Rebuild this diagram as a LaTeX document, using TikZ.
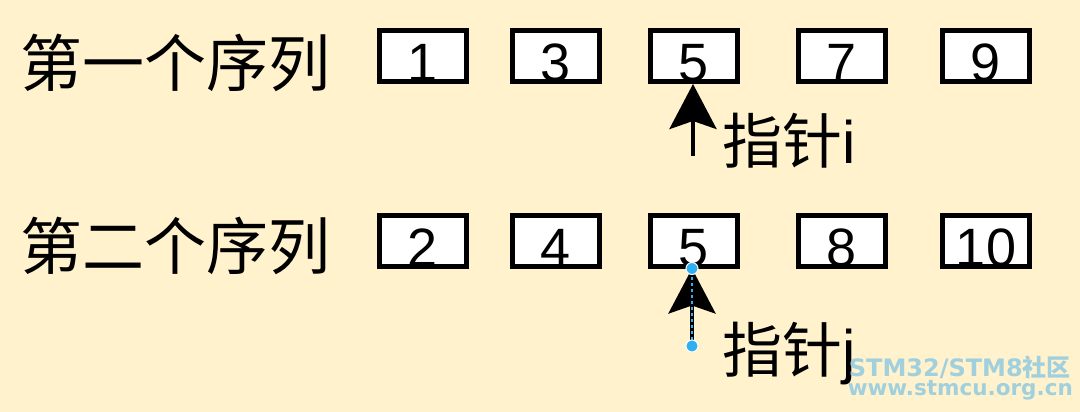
\documentclass[tikz,border=0pt]{standalone}
\usepackage{fontspec}
\setmainfont{Liberation Sans}
\newfontfamily\cjk{Noto Sans CJK SC}
\newfontfamily\wmfont{DejaVu Sans}
\usetikzlibrary{arrows.meta}
\definecolor{paper}{HTML}{FFF2CC}
\definecolor{handle}{HTML}{2DAFF0}
\definecolor{wmark}{RGB}{160,208,222}
\tikzset{
  numbox/.style={draw, line width=5pt, fill=white, minimum width=87pt,
    minimum height=51pt, inner sep=0pt, text height=51pt, text depth=0pt,
    font=\fontsize{54}{54}\selectfont},
  seqlabel/.style={font=\cjk\fontsize{62}{62}\selectfont, inner sep=0pt, anchor=base west},
  ptr/.style={line width=4pt, -{Stealth[length=45pt,width=47pt,inset=8pt]}},
  ptrlabel/.style={font=\fontsize{60}{60}\selectfont, inner sep=0pt, anchor=base west}
}

\begin{document}
\begin{tikzpicture}[x=1pt,y=-1pt]
      \fill[paper] (0,0) rectangle (1080,412);
      \useasboundingbox (0,0) rectangle (1080,412);

      % first sequence
      \node[seqlabel] (seqA) at (20,87) {第一个序列};
      \node[numbox] (a1) at (423,56) {1};
      \node[numbox] (a2) at (556,56) {3};
      \node[numbox] (a3) at (694,56) {5};
      \node[numbox] (a4) at (842,56) {7};
      \node[numbox] (a5) at (986,56) {9};

      % second sequence
      \node[seqlabel] (seqB) at (20,269) {第二个序列};
      \node[numbox] (b1) at (423,240.5) {2};
      \node[numbox] (b2) at (556,240.5) {4};
      \node[numbox] (b3) at (694,240.5) {5};
      \node[numbox] (b4) at (842,240.5) {8};
      \node[numbox] (b5) at (986,240.5) {10};

      % pointer i
      \coordinate (tailA) at ([xshift=-1pt,yshift=-71.5pt]a3.south);
      \draw[ptr] (tailA) -- ([xshift=-1pt]a3.south);
      \node[ptrlabel] (ptrA) at (722,163) {{\cjk 指针}i};

      % pointer j, still selected
      \coordinate (tailB) at ([xshift=-2pt,yshift=-77.5pt]b3.south);
      \coordinate (tipB) at ([xshift=-2pt]b3.south);
      \draw[ptr] (tailB) -- (tipB);
      \draw[handle, dashed, line width=1.2pt] (tailB) -- (tipB);
      \draw[fill=handle, draw=white, line width=1pt] (tipB) circle (6pt);
      \draw[fill=handle, draw=white, line width=1pt] (tailB) circle (6pt);
      \node[ptrlabel] (ptrB) at (722,372) {{\cjk 指针}j};

      % watermark
      \node[anchor=base east, inner sep=0pt, text=wmark, font=\wmfont\bfseries\fontsize{24}{24}\selectfont]
        (wmA) at (1071,376) {STM32/STM8{\cjk\bfseries 社区}};
      \node[anchor=base east, inner sep=0pt, text=wmark, font=\wmfont\bfseries\fontsize{21.5}{21.5}\selectfont]
        (wmB) at (1073,395) {www.stmcu.org.cn};
\end{tikzpicture}
\end{document}
